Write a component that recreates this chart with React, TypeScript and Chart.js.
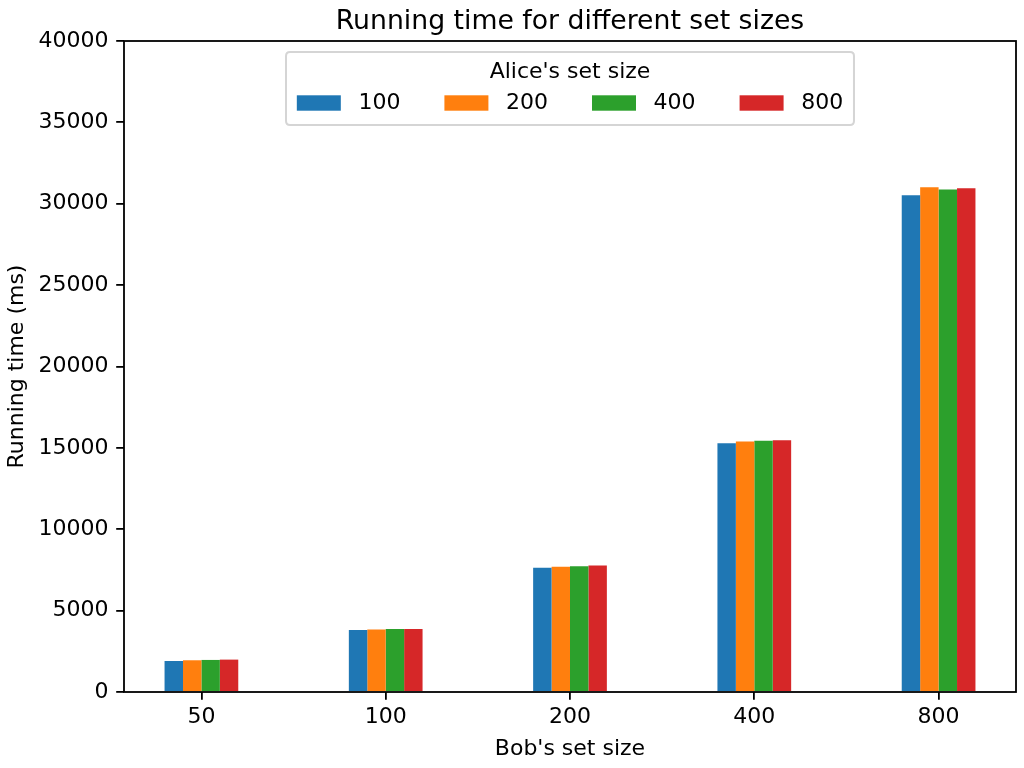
import React, { useEffect, useRef } from "react";
import { Chart, registerables } from "chart.js";

Chart.register(...registerables);

const bobSizes = ["50", "100", "200", "400", "800"];
const aliceSizes = ["100", "200", "400", "800"];
const alice100 = [1905, 3810, 7640, 15280, 30520];
const alice200 = [1950, 3840, 7700, 15385, 31010];
const alice400 = [1970, 3870, 7730, 15445, 30870];
const alice800 = [1990, 3875, 7770, 15465, 30950];
const seriesValues = [alice100, alice200, alice400, alice800];
const colors = ["#1f77b4", "#ff7f0e", "#2ca02c", "#d62728"];
const yTicks = [0, 5000, 10000, 15000, 20000, 25000, 30000, 35000, 40000];
const chartTitle = "Running time for different set sizes";
const legendTitle = "Alice's set size";

const FONT = "DejaVu Sans";
const FS = 22;

const framePlugin = {
  id: "frame",
  afterDatasetsDraw(chart: any) {
    const { ctx, chartArea } = chart;
    ctx.save();
    ctx.strokeStyle = "#000";
    ctx.lineWidth = 1.8;
    ctx.strokeRect(chartArea.left, chartArea.top, chartArea.right - chartArea.left, chartArea.bottom - chartArea.top);
    ctx.restore();
  },
};

const titlePlugin = {
  id: "axTitle",
  afterDraw(chart: any) {
    const { ctx, chartArea } = chart;
    ctx.save();
    ctx.font = `26.7px "${FONT}"`;
    ctx.fillStyle = "#000";
    ctx.textAlign = "center";
    ctx.textBaseline = "alphabetic";
    ctx.fillText(chartTitle, (chartArea.left + chartArea.right) / 2, chartArea.top - 12);
    ctx.restore();
  },
};

const legendPlugin = {
  id: "mplLegend",
  afterDraw(chart: any) {
    const { ctx, chartArea } = chart;
    ctx.save();
    ctx.font = `${FS}px "${FONT}"`;
    const pad = 0.4 * FS;
    const handle = 2 * FS;
    const textPad = 0.8 * FS;
    const colSpace = 2 * FS;
    const labels = chart.data.datasets.map((d: any) => d.label);
    const widths = labels.map((l: string) => ctx.measureText(l).width);
    let total = 0;
    widths.forEach((w: number, i: number) => {
      total += handle + textPad + w + (i < widths.length - 1 ? colSpace : 0);
    });
    const boxW = total + 2 * pad + 4;
    const cx = (chartArea.left + chartArea.right) / 2;
    const left = cx - boxW / 2;
    const top = chartArea.top + 11;
    const boxH = 73;
    const r = 4;
    ctx.beginPath();
    ctx.moveTo(left + r, top);
    ctx.lineTo(left + boxW - r, top);
    ctx.quadraticCurveTo(left + boxW, top, left + boxW, top + r);
    ctx.lineTo(left + boxW, top + boxH - r);
    ctx.quadraticCurveTo(left + boxW, top + boxH, left + boxW - r, top + boxH);
    ctx.lineTo(left + r, top + boxH);
    ctx.quadraticCurveTo(left, top + boxH, left, top + boxH - r);
    ctx.lineTo(left, top + r);
    ctx.quadraticCurveTo(left, top, left + r, top);
    ctx.closePath();
    ctx.fillStyle = "rgba(255,255,255,0.8)";
    ctx.fill();
    ctx.strokeStyle = "#d5d5d5";
    ctx.lineWidth = 2;
    ctx.stroke();
    ctx.fillStyle = "#000";
    ctx.textAlign = "center";
    ctx.textBaseline = "middle";
    ctx.fillText(legendTitle, cx, top + 20);
    let x = left + pad + 2;
    const ey = top + 51;
    ctx.textAlign = "left";
    chart.data.datasets.forEach((d: any, i: number) => {
      ctx.fillStyle = d.backgroundColor;
      ctx.fillRect(x, ey - 7.7, handle, 15.4);
      ctx.fillStyle = "#000";
      ctx.fillText(labels[i], x + handle + textPad, ey);
      x += handle + textPad + widths[i] + colSpace;
    });
    ctx.restore();
  },
};

export default function App() {
  const ref = useRef<HTMLCanvasElement>(null);
  useEffect(() => {
    document.body.style.margin = "0";
    const canvas = ref.current!;
    const chart = new Chart(canvas, {
      type: "bar",
      data: {
        datasets: aliceSizes.map((label, k) => ({
          label,
          data: seriesValues[k].map((v, i) => ({ x: i, y: v })),
          backgroundColor: colors[k],
          borderWidth: 0,
          categoryPercentage: 0.4,
          barPercentage: 1,
        })),
      },
      options: {
        responsive: false,
        animation: false,
        devicePixelRatio: 1,
        layout: { padding: { left: 0, right: 8, top: 41, bottom: 0 } },
        plugins: {
          legend: { display: false },
          tooltip: { enabled: false },
          title: { display: false },
        },
        scales: {
          x: {
            type: "linear",
            min: -0.42,
            max: 4.42,
            offset: false,
            afterBuildTicks: (scale: any) => {
              scale.ticks = bobSizes.map((_, i) => ({ value: i }));
            },
            afterFit: (scale: any) => {
              scale.height = 76;
            },
            ticks: {
              callback: (v: any) => bobSizes[Math.round(v)] ?? "",
              color: "#000",
              font: { family: FONT, size: FS },
              padding: 4,
              maxRotation: 0,
            },
            grid: { offset: false, drawOnChartArea: false, drawTicks: true, tickLength: 7.8, color: "#000", lineWidth: 1.8 },
            border: { display: false },
            title: {
              display: true,
              text: "Bob's set size",
              color: "#000",
              font: { family: FONT, size: FS },
              padding: { top: 0, bottom: 6 },
            },
          },
          y: {
            min: 0,
            max: 40000,
            afterBuildTicks: (scale: any) => {
              scale.ticks = yTicks.map((v) => ({ value: v }));
            },
            afterFit: (scale: any) => {
              scale.width = 124;
            },
            ticks: {
              callback: (v: any) => String(v),
              color: "#000",
              font: { family: FONT, size: FS },
              padding: 7.8,
            },
            grid: { drawOnChartArea: false, drawTicks: true, tickLength: 7.8, color: "#000", lineWidth: 1.8 },
            border: { display: false },
            title: {
              display: true,
              text: "Running time (ms)",
              color: "#000",
              font: { family: FONT, size: FS },
              padding: { top: 4, bottom: 4 },
            },
          },
        },
      },
      plugins: [framePlugin, titlePlugin, legendPlugin],
    });
    return () => chart.destroy();
  }, []);
  return (
    <div style={{ position: "absolute", left: 0, top: 0, width: 1024, height: 768 }}>
      <canvas ref={ref} width={1024} height={768} />
    </div>
  );
}
